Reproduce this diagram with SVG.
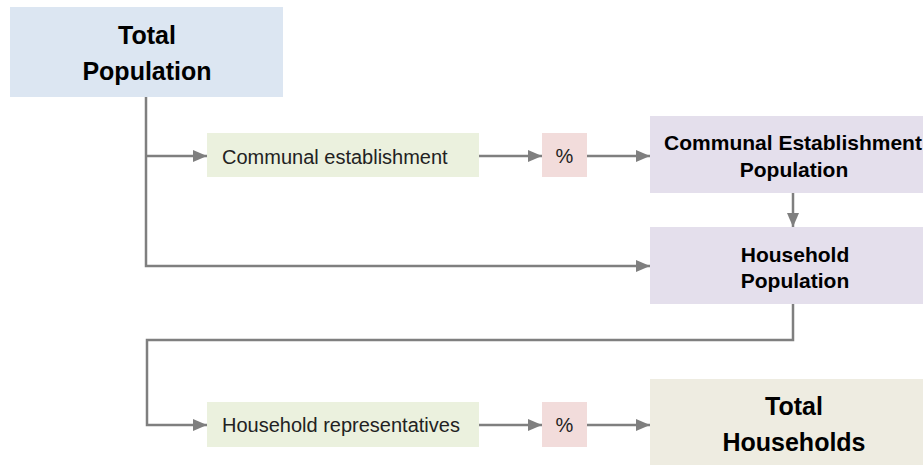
<svg xmlns="http://www.w3.org/2000/svg" width="923" height="465" viewBox="0 0 923 465">
<style>
  .b{font-family:"Liberation Sans",Arial,sans-serif;font-weight:bold;fill:#000;text-anchor:middle}
  .r{font-family:"Liberation Sans",Arial,sans-serif;font-size:20px;fill:#222}
  .c{fill:none;stroke:#7f7f7f;stroke-width:2.5}
  .blue{fill:#dce6f2}.green{fill:#ebf1de}.pink{fill:#f2dcdb}.purple{fill:#e4dfec}.tan{fill:#eeece1}
</style>
<defs>
  <marker id="ah" markerUnits="userSpaceOnUse" markerWidth="15" markerHeight="13" refX="14" refY="6" orient="auto">
    <path d="M0,0 L14,6 L0,12 z" fill="#7f7f7f"/>
  </marker>
</defs>
<rect width="923" height="465" fill="#fff"/>
<g id="connectors">
  <path class="c" d="M146,97 V266 H650" marker-end="url(#ah)"/>
  <path class="c" d="M146,156 H207" marker-end="url(#ah)"/>
  <path class="c" d="M479,156 H542" marker-end="url(#ah)"/>
  <path class="c" d="M587,156 H650" marker-end="url(#ah)"/>
  <path class="c" d="M793,193 V227" marker-end="url(#ah)"/>
  <path class="c" d="M793,304 V340 H147 V425 H207" marker-end="url(#ah)"/>
  <path class="c" d="M479,425 H542" marker-end="url(#ah)"/>
  <path class="c" d="M587,425 H650" marker-end="url(#ah)"/>
</g>
<g id="total-population">
  <rect class="blue" x="10" y="7" width="273" height="90"/>
  <text class="b" font-size="25" x="147" y="44">Total</text>
  <text class="b" font-size="25" x="147" y="80">Population</text>
</g>
<g id="communal-establishment">
  <rect class="green" x="207" y="133" width="272" height="44"/>
  <text class="r" x="222" y="164">Communal establishment</text>
</g>
<g id="pct1">
  <rect class="pink" x="542" y="133" width="45" height="44"/>
  <text class="r" x="564.5" y="163" text-anchor="middle">%</text>
</g>
<g id="ce-population">
  <rect class="purple" x="650" y="116" width="273" height="77"/>
  <text class="b" font-size="21" x="793" y="150">Communal Establishment</text>
  <text class="b" font-size="21" x="794" y="177">Population</text>
</g>
<g id="household-population">
  <rect class="purple" x="650" y="227" width="273" height="77"/>
  <text class="b" font-size="21" x="795" y="262">Household</text>
  <text class="b" font-size="21" x="795" y="288">Population</text>
</g>
<g id="household-representatives">
  <rect class="green" x="207" y="402" width="272" height="45"/>
  <text class="r" x="222" y="432">Household representatives</text>
</g>
<g id="pct2">
  <rect class="pink" x="542" y="402" width="45" height="45"/>
  <text class="r" x="564.5" y="432" text-anchor="middle">%</text>
</g>
<g id="total-households">
  <rect class="tan" x="650" y="379" width="273" height="86"/>
  <text class="b" font-size="25" x="794" y="415">Total</text>
  <text class="b" font-size="25" x="794" y="451">Households</text>
</g>
</svg>
